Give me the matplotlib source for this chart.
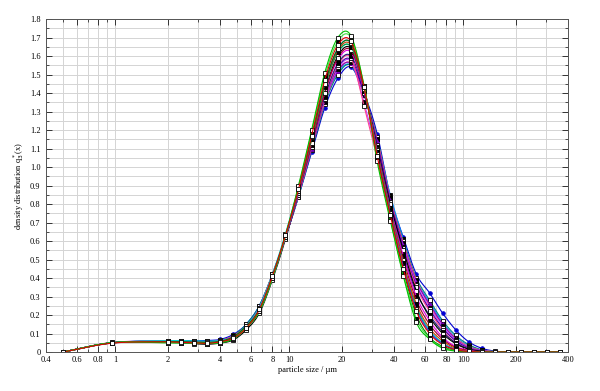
import matplotlib
matplotlib.use("Agg")
import matplotlib.pyplot as plt
import numpy as np
from matplotlib.ticker import FixedLocator, NullFormatter, MultipleLocator

plt.rcParams['font.family'] = ['Liberation Serif', 'DejaVu Serif']

# particle size classes (µm)
sizes = [0.5, 0.96, 2.0, 2.38, 2.83, 3.36, 4.0, 4.76, 5.66, 6.73, 8.0, 9.51,
         11.3, 13.45, 16.0, 19.03, 22.6, 26.9, 32.0, 38.05, 45.25, 53.8, 64.0,
         76.1, 90.5, 107.6, 128.0, 152.2, 181.0, 215.3, 256.0, 304.4, 362.0]

# density distribution q3*(x) for each measurement
q_green = [0, 0.050, 0.050, 0.050, 0.048, 0.046, 0.050, 0.070, 0.13, 0.22, 0.40, 0.63, 0.90, 1.20, 1.51, 1.70, 1.71, 1.44, 1.03, 0.71, 0.41, 0.16, 0.07, 0.02, 0.005, 0, 0, 0, 0, 0, 0, 0, 0]
q_blue = [0, 0.050, 0.060, 0.060, 0.060, 0.062, 0.068, 0.095, 0.15, 0.25, 0.42, 0.62, 0.84, 1.08, 1.32, 1.48, 1.54, 1.40, 1.18, 0.84, 0.62, 0.42, 0.32, 0.21, 0.12, 0.055, 0.02, 0.005, 0, 0, 0, 0, 0]
q_magenta = [0, 0.052, 0.058, 0.056, 0.055, 0.054, 0.060, 0.085, 0.14, 0.24, 0.41, 0.62, 0.86, 1.13, 1.40, 1.58, 1.62, 1.41, 1.09, 0.78, 0.52, 0.30, 0.17, 0.08, 0.03, 0.01, 0, 0, 0, 0, 0, 0, 0]
q_cyan = [0, 0.050, 0.062, 0.062, 0.060, 0.058, 0.062, 0.080, 0.14, 0.24, 0.42, 0.64, 0.89, 1.16, 1.44, 1.62, 1.65, 1.43, 1.07, 0.76, 0.48, 0.25, 0.12, 0.05, 0.015, 0.004, 0, 0, 0, 0, 0, 0, 0]
q_black = [0, 0.050, 0.052, 0.050, 0.045, 0.042, 0.048, 0.065, 0.12, 0.21, 0.39, 0.61, 0.86, 1.13, 1.41, 1.60, 1.64, 1.42, 1.10, 0.80, 0.55, 0.33, 0.19, 0.10, 0.045, 0.015, 0.004, 0, 0, 0, 0, 0, 0]
q_purple = [0, 0.049, 0.054, 0.054, 0.052, 0.050, 0.056, 0.078, 0.13, 0.23, 0.41, 0.62, 0.85, 1.10, 1.36, 1.52, 1.56, 1.40, 1.14, 0.82, 0.58, 0.38, 0.26, 0.15, 0.07, 0.025, 0.008, 0, 0, 0, 0, 0, 0]
q_dkgreen = [0, 0.051, 0.056, 0.055, 0.053, 0.052, 0.058, 0.082, 0.14, 0.23, 0.41, 0.63, 0.88, 1.16, 1.45, 1.64, 1.67, 1.43, 1.06, 0.74, 0.44, 0.20, 0.08, 0.03, 0.008, 0, 0, 0, 0, 0, 0, 0, 0]
q_pink = [0, 0.050, 0.057, 0.057, 0.056, 0.055, 0.061, 0.086, 0.14, 0.24, 0.42, 0.62, 0.85, 1.11, 1.37, 1.55, 1.59, 1.33, 1.05, 0.76, 0.55, 0.35, 0.22, 0.12, 0.05, 0.02, 0.005, 0, 0, 0, 0, 0, 0]
q_teal = [0, 0.050, 0.059, 0.058, 0.057, 0.056, 0.063, 0.090, 0.15, 0.25, 0.42, 0.62, 0.84, 1.09, 1.34, 1.50, 1.55, 1.39, 1.16, 0.83, 0.60, 0.40, 0.28, 0.17, 0.09, 0.04, 0.012, 0.003, 0, 0, 0, 0, 0]
q_orange = [0, 0.050, 0.053, 0.052, 0.050, 0.048, 0.054, 0.074, 0.13, 0.22, 0.40, 0.62, 0.87, 1.15, 1.44, 1.63, 1.66, 1.43, 1.08, 0.76, 0.48, 0.26, 0.13, 0.06, 0.02, 0.005, 0, 0, 0, 0, 0, 0, 0]
q_navy = [0, 0.050, 0.058, 0.057, 0.055, 0.053, 0.059, 0.083, 0.14, 0.24, 0.41, 0.62, 0.86, 1.12, 1.38, 1.56, 1.60, 1.41, 1.11, 0.79, 0.53, 0.32, 0.20, 0.11, 0.05, 0.018, 0.005, 0, 0, 0, 0, 0, 0]
q_lime = [0, 0.050, 0.051, 0.050, 0.048, 0.046, 0.051, 0.071, 0.13, 0.22, 0.40, 0.63, 0.89, 1.19, 1.49, 1.68, 1.70, 1.44, 1.05, 0.72, 0.42, 0.18, 0.075, 0.025, 0.006, 0, 0, 0, 0, 0, 0, 0, 0]
q_violet = [0, 0.050, 0.056, 0.056, 0.055, 0.054, 0.060, 0.084, 0.14, 0.24, 0.41, 0.62, 0.85, 1.11, 1.36, 1.53, 1.57, 1.35, 1.07, 0.78, 0.57, 0.37, 0.24, 0.14, 0.065, 0.025, 0.007, 0.002, 0, 0, 0, 0, 0]
q_darkred = [0, 0.050, 0.055, 0.054, 0.052, 0.050, 0.056, 0.079, 0.13, 0.23, 0.41, 0.62, 0.86, 1.13, 1.40, 1.59, 1.63, 1.42, 1.09, 0.77, 0.50, 0.28, 0.15, 0.07, 0.025, 0.008, 0, 0, 0, 0, 0, 0, 0]
q_sky = [0, 0.050, 0.060, 0.059, 0.058, 0.057, 0.063, 0.088, 0.15, 0.25, 0.42, 0.62, 0.84, 1.10, 1.35, 1.51, 1.55, 1.39, 1.15, 0.85, 0.61, 0.39, 0.27, 0.16, 0.08, 0.035, 0.01, 0.002, 0, 0, 0, 0, 0]
q_olive = [0, 0.050, 0.054, 0.053, 0.051, 0.049, 0.055, 0.076, 0.13, 0.22, 0.40, 0.62, 0.87, 1.15, 1.43, 1.62, 1.65, 1.43, 1.08, 0.77, 0.47, 0.24, 0.11, 0.045, 0.014, 0.003, 0, 0, 0, 0, 0, 0, 0]
q_indigo = [0, 0.050, 0.057, 0.056, 0.055, 0.054, 0.060, 0.084, 0.14, 0.24, 0.41, 0.62, 0.85, 1.11, 1.37, 1.54, 1.58, 1.40, 1.12, 0.81, 0.56, 0.36, 0.23, 0.13, 0.06, 0.022, 0.006, 0, 0, 0, 0, 0, 0]
q_gray = [0, 0.050, 0.053, 0.051, 0.049, 0.047, 0.053, 0.072, 0.13, 0.22, 0.40, 0.62, 0.87, 1.16, 1.45, 1.64, 1.67, 1.43, 1.07, 0.75, 0.46, 0.23, 0.11, 0.045, 0.013, 0.003, 0, 0, 0, 0, 0, 0, 0]
q_rose = [0, 0.050, 0.058, 0.057, 0.056, 0.055, 0.061, 0.087, 0.14, 0.24, 0.42, 0.62, 0.85, 1.10, 1.35, 1.52, 1.56, 1.39, 1.15, 0.83, 0.59, 0.39, 0.25, 0.15, 0.075, 0.03, 0.01, 0.002, 0, 0, 0, 0, 0]
q_red = [0, 0.048, 0.055, 0.052, 0.050, 0.047, 0.055, 0.075, 0.13, 0.23, 0.41, 0.63, 0.88, 1.17, 1.47, 1.66, 1.68, 1.43, 1.06, 0.74, 0.45, 0.22, 0.10, 0.04, 0.012, 0.003, 0, 0, 0, 0, 0, 0, 0]

series = [
    (q_blue, '#0000d0', 'o', '#0000d0', '#0000d0'),
    (q_sky, '#0090ff', 's', 'black', 'black'),
    (q_teal, '#008080', 's', 'white', 'black'),
    (q_rose, '#ff6060', 's', 'black', 'black'),
    (q_purple, '#8000c0', '^', '#8000c0', '#8000c0'),
    (q_violet, '#c040ff', 's', 'black', 'black'),
    (q_indigo, '#4000a0', 's', 'white', 'black'),
    (q_pink, '#ff4090', 's', 'white', 'black'),
    (q_navy, '#202080', 's', 'black', 'black'),
    (q_black, '#000000', 's', 'white', 'black'),
    (q_magenta, '#e000e0', 's', 'black', 'black'),
    (q_darkred, '#a00030', 's', 'white', 'black'),
    (q_cyan, '#00d0d0', 's', 'white', 'black'),
    (q_olive, '#00a040', 's', 'black', 'black'),
    (q_orange, '#d04000', 's', 'black', 'black'),
    (q_gray, '#4040ff', 's', 'white', 'black'),
    (q_dkgreen, '#008000', 's', 'white', 'black'),
    (q_lime, '#40e040', 's', 'black', 'black'),
    (q_green, '#00c000', 's', 'white', 'black'),
    (q_red, '#e00000', 's', 'white', 'black'),
]


def smooth_line(xs, ys, n=12):
    # cardinal spline through the points in log-x, only for the drawn line
    lx = np.log10(xs)
    y = np.asarray(ys, dtype=float)
    m = np.zeros_like(y)
    m[1:-1] = (y[2:] - y[:-2]) / (lx[2:] - lx[:-2])
    m[0] = (y[1] - y[0]) / (lx[1] - lx[0])
    m[-1] = (y[-1] - y[-2]) / (lx[-1] - lx[-2])
    px, py = [], []
    for k in range(len(y) - 1):
        h = lx[k + 1] - lx[k]
        t = np.linspace(0, 1, n, endpoint=False)
        h00 = 2 * t**3 - 3 * t**2 + 1
        h10 = t**3 - 2 * t**2 + t
        h01 = -2 * t**3 + 3 * t**2
        h11 = t**3 - t**2
        py.append(h00 * y[k] + h10 * h * m[k] + h01 * y[k + 1] + h11 * h * m[k + 1])
        px.append(lx[k] + t * h)
    px.append([lx[-1]])
    py.append([y[-1]])
    return 10 ** np.concatenate(px), np.clip(np.concatenate(py), 0, None)


fig = plt.figure(figsize=(6, 3.91), dpi=100)
ax = fig.add_axes([0.0767, 0.0997, 0.87, 0.8517])

for vals, col, mk, mfc, mec in series:
    sx, sy = smooth_line(sizes, vals)
    ax.plot(sx, sy, color=col, lw=0.8)
    ax.plot(sizes, vals, ls='none', marker=mk, ms=2.6,
            mfc=mfc, mec=mec, mew=0.6)

ax.set_xscale('log')
ax.set_xlim(0.4, 400)
ax.set_ylim(0, 1.8)

xlabels = [0.4, 0.6, 0.8, 1, 2, 4, 6, 8, 10, 20, 40, 60, 80, 100, 200, 400]
xminor = [0.5, 0.7, 0.9, 3, 5, 7, 9, 30, 50, 70, 90, 300]
ax.xaxis.set_major_locator(FixedLocator(xlabels))
ax.set_xticklabels([('%g' % v) for v in xlabels])
ax.xaxis.set_minor_locator(FixedLocator(xminor))
ax.xaxis.set_minor_formatter(NullFormatter())
yt = np.arange(0, 1.81, 0.1)
ax.yaxis.set_major_locator(FixedLocator(yt))
ax.set_yticklabels(['0'] + ['%.1f' % v for v in yt[1:]])
ax.yaxis.set_minor_locator(MultipleLocator(0.05))

ax.grid(True, which='both', color='#d4d4d4', lw=0.7)
ax.set_axisbelow(True)
ax.tick_params(which='both', direction='in', top=True, right=True,
               labelsize=6, color='#333333')
ax.tick_params(axis='x', pad=3)
ax.tick_params(axis='y', pad=4)
ax.tick_params(which='major', length=4, width=0.7)
ax.tick_params(which='minor', length=2, width=0.6)
for s in ax.spines.values():
    s.set_color('#555555')
    s.set_linewidth(0.7)

ax.set_xlabel('particle size / µm', fontsize=6, labelpad=1)
ax.set_ylabel('density distribution q$_3^*$(x)', fontsize=6, labelpad=3)

fig.savefig('out.png', dpi=100)
